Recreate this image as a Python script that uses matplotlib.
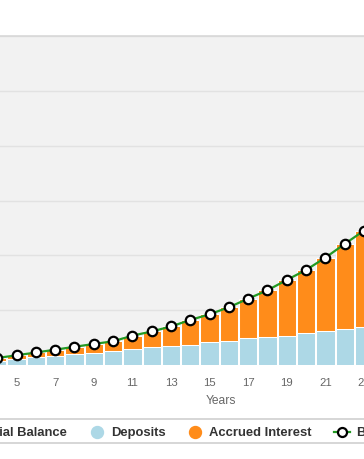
import matplotlib
matplotlib.use("Agg")
import matplotlib.pyplot as plt
import numpy as np

# values (grid step taken as 10,000)
years = [4, 5, 6, 7, 8, 9, 10, 11, 12, 13, 14, 15, 16, 17, 18, 19, 20, 21, 22, 23]
initial_balance = [0, 0, 0, 0, 0, 0, 0, 0, 0, 0, 0, 0, 0, 0, 0, 0, 0, 0, 0, 0]
deposits = [675, 1040, 1405, 1700, 1915, 2100, 2555, 2975, 3195, 3520,
            3700, 4140, 4435, 4870, 5055, 5350, 5785, 6110, 6510, 6960]
balance = [1280, 1770, 2280, 2790, 3320, 3830, 4325, 5350, 6115, 7025,
           8210, 9250, 10530, 12100, 13630, 15510, 17340, 19580, 22080, 24510]
interest = [b - d - i for b, d, i in zip(balance, deposits, initial_balance)]
tick_years = [5, 7, 9, 11, 13, 15, 17, 19, 21, 23]

BLUE = '#add8e6'
ORANGE = '#ff8c1a'
GREEN = '#239a23'

plt.rcParams['font.family'] = ['Liberation Sans', 'DejaVu Sans']

W, H = 364, 460
fig = plt.figure(figsize=(W / 100, H / 100), dpi=100)

# plot area: y from 37px to 366px, full width
ax = fig.add_axes([0, (H - 366) / H, 1, 329 / H])
ax.set_facecolor('#f2f2f2')

ax.bar(years, initial_balance, width=0.95, color='#7cb5ec', edgecolor='white', linewidth=0.75, zorder=2)
ax.bar(years, deposits, bottom=initial_balance, width=0.95, color=BLUE,
       edgecolor='white', linewidth=0.75, zorder=2)
ax.bar(years, interest, bottom=[d + i for d, i in zip(deposits, initial_balance)],
       width=0.95, color=ORANGE, edgecolor='white', linewidth=0.75, zorder=2)
ax.plot(years, balance, color=GREEN, lw=1.6, marker='o', ms=6.8,
        mfc='white', mec='black', mew=1.6, zorder=4)

ax.set_ylim(0, 60000)
ax.set_yticks(np.arange(0, 60001, 10000))
ax.yaxis.grid(True, color='#e2e2e2', lw=1.0, zorder=0)
ax.set_axisbelow(True)
ax.tick_params(axis='y', left=False, labelleft=False)

x_left = 5 - 16.7 / 19.46
ax.set_xlim(x_left, x_left + W / 19.46)
ax.set_xticks(tick_years)
ax.set_xticklabels([str(t) for t in tick_years])
ax.tick_params(axis='x', length=0, pad=8.5, labelsize=8.2, labelcolor='#666666')

for s in ['left', 'right', 'bottom']:
    ax.spines[s].set_visible(False)
ax.spines['top'].set_color('#d8d8d8')
ax.spines['top'].set_linewidth(1.2)

fig.text(220.7 / W, 1 - 400.7 / H, 'Years', ha='center', va='center',
         fontsize=8.64, color='#666666')

# legend strip
for yy in (420, 444):
    fig.add_artist(plt.Line2D([0, 1], [1 - yy / H, 1 - yy / H], color='#d6d6d6', lw=1.4))

ly = 1 - 433.3 / H
lkw = dict(va='center', fontsize=9.36, fontweight='bold', color='#333333')
fig.text(66.7 / W, ly, 'Initial Balance', ha='right', **lkw)
fig.add_artist(plt.Line2D([96.7 / W], [ly], marker='o', ms=8.6, color=BLUE, lw=0))
fig.text(111 / W, ly, 'Deposits', ha='left', **lkw)
fig.add_artist(plt.Line2D([195 / W], [ly], marker='o', ms=8.6, color=ORANGE, lw=0))
fig.text(209 / W, ly, 'Accrued Interest', ha='left', **lkw)
fig.add_artist(plt.Line2D([334 / W, 350 / W], [ly, ly], color=GREEN, lw=1.6))
fig.add_artist(plt.Line2D([341.5 / W], [ly], marker='o', ms=6.5, mfc='white',
                          mec='black', mew=1.6, lw=0))
fig.text(356 / W, ly, 'Balance', ha='left', **lkw)

fig.savefig('out.png', dpi=100)
